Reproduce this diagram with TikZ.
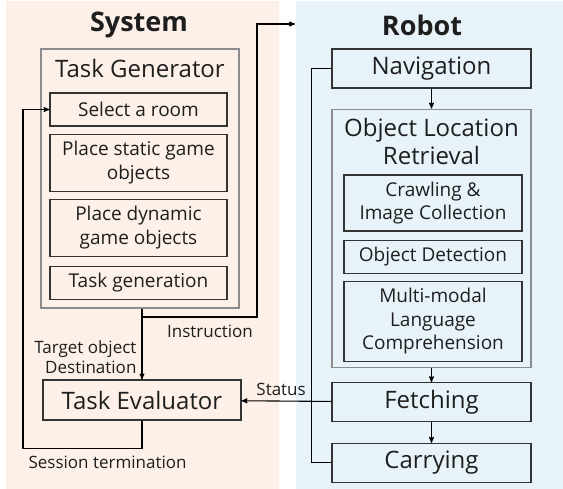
\documentclass[tikz,border=0pt]{standalone}
\usepackage{fontspec}
\setmainfont{Open Sans}
\usetikzlibrary{arrows,positioning}

\definecolor{sysfill}{RGB}{253,240,232}
\definecolor{robfill}{RGB}{232,243,249}
\definecolor{ink}{RGB}{30,30,30}

\tikzstyle{panel} = [rectangle, inner sep=0pt, anchor=north west]
\tikzstyle{grp} = [rectangle, draw=black!45, inner sep=0pt]
\tikzstyle{hd} = [text=ink, align=center, inner sep=0pt,
    font=\fontsize{24}{28}\selectfont]
\tikzstyle{big} = [hd, rectangle, draw=black!80]
\tikzstyle{bx} = [rectangle, draw=black!80, text=ink, align=center,
    inner sep=0pt, font=\fontsize{19}{23.5}\selectfont]
\tikzstyle{ttl} = [text=ink, inner sep=0pt, font=\fontsize{27}{30}\selectfont\bfseries]
\tikzstyle{lbl} = [text=ink, inner sep=0pt, font=\fontsize{17}{20}\selectfont]

\begin{document}
\begin{tikzpicture}[x=1pt,y=-1pt,->,>=stealth',line width=1.1pt]
  \useasboundingbox (0,0) rectangle (563,488);

  % the two halves
  \node[panel, fill=sysfill, minimum width=273pt, minimum height=488pt] (sys) at (5,0) {};
  \node[panel, fill=robfill, minimum width=268pt, minimum height=488pt] (rob) at (295,0) {};
  \node[ttl] (systtl) at (139,25) {System};
  \node[ttl] (robttl) at (422,25) {Robot};

  % system side
  \node[grp, minimum width=198pt, minimum height=259pt] (tg) at (140,178.5) {};
  \node[hd] (tgttl) at (140,68) {Task Generator};
  \node[bx, minimum width=177pt, minimum height=33pt] (sel) at (138.5,109.5) {Select a room};
  \node[bx, minimum width=177pt, minimum height=57pt] (stat) [below=7pt of sel] {Place static game\\objects};
  \node[bx, minimum width=177pt, minimum height=57pt] (dyn)  [below=7pt of stat] {Place dynamic\\game objects};
  \node[bx, minimum width=177pt, minimum height=33pt] (gen)  [below=9pt of dyn] {Task generation};
  \node[big, minimum width=198pt, minimum height=40pt] (eval) at (142,400) {Task Evaluator};

  % robot side
  \node[big, minimum width=199pt, minimum height=39pt] (nav) at (431.5,68.5) {Navigation};
  \node[grp, minimum width=199pt, minimum height=258pt] (olr) [below=20pt of nav] {};
  \node[hd] (olrttl) at (431.5,141) {Object Location\\Retrieval};
  \node[bx, minimum width=178pt, minimum height=56pt] (crawl) at (433,203) {Crawling \&\\Image Collection};
  \node[bx, minimum width=178pt, minimum height=33pt] (det) [below=8pt of crawl] {Object Detection};
  \node[bx, minimum width=178pt, minimum height=80pt] (mm)  [below=7pt of det] {Multi-modal\\Language\\Comprehension};
  \node[big, minimum width=199pt, minimum height=39pt] (fetch) [below=14.5pt of olr] {Fetching};
  \node[big, minimum width=199pt, minimum height=39pt] (carry) [below=20.5pt of fetch] {Carrying};

  \coordinate (brk) at (142,317);
  \coordinate (inst) at (295,24);

  \path (nav) edge (olr)
        (olr) edge (fetch)
        (fetch) edge (carry)
        (fetch) edge node[lbl, pos=0.56, above=5pt] {Status} (eval);

  \draw (eval.north |- tg.south) -- node[lbl, pos=0.68, left=5pt, align=right]
        {Target object\\Destination} (eval.north);
  \draw (brk) -- ++(115,0) |- (inst);
  \draw (eval.south) -- ++(0,28) -- ++(-119,0) |- (sel.west);
  \draw[-] (nav.west) -- ++(-20,0) |- (carry.west);

  \node[lbl] (instlbl) at (210,331) {Instruction};
  \node[lbl, anchor=west] (sesslbl) at (28,462) {Session termination};
\end{tikzpicture}
\end{document}
